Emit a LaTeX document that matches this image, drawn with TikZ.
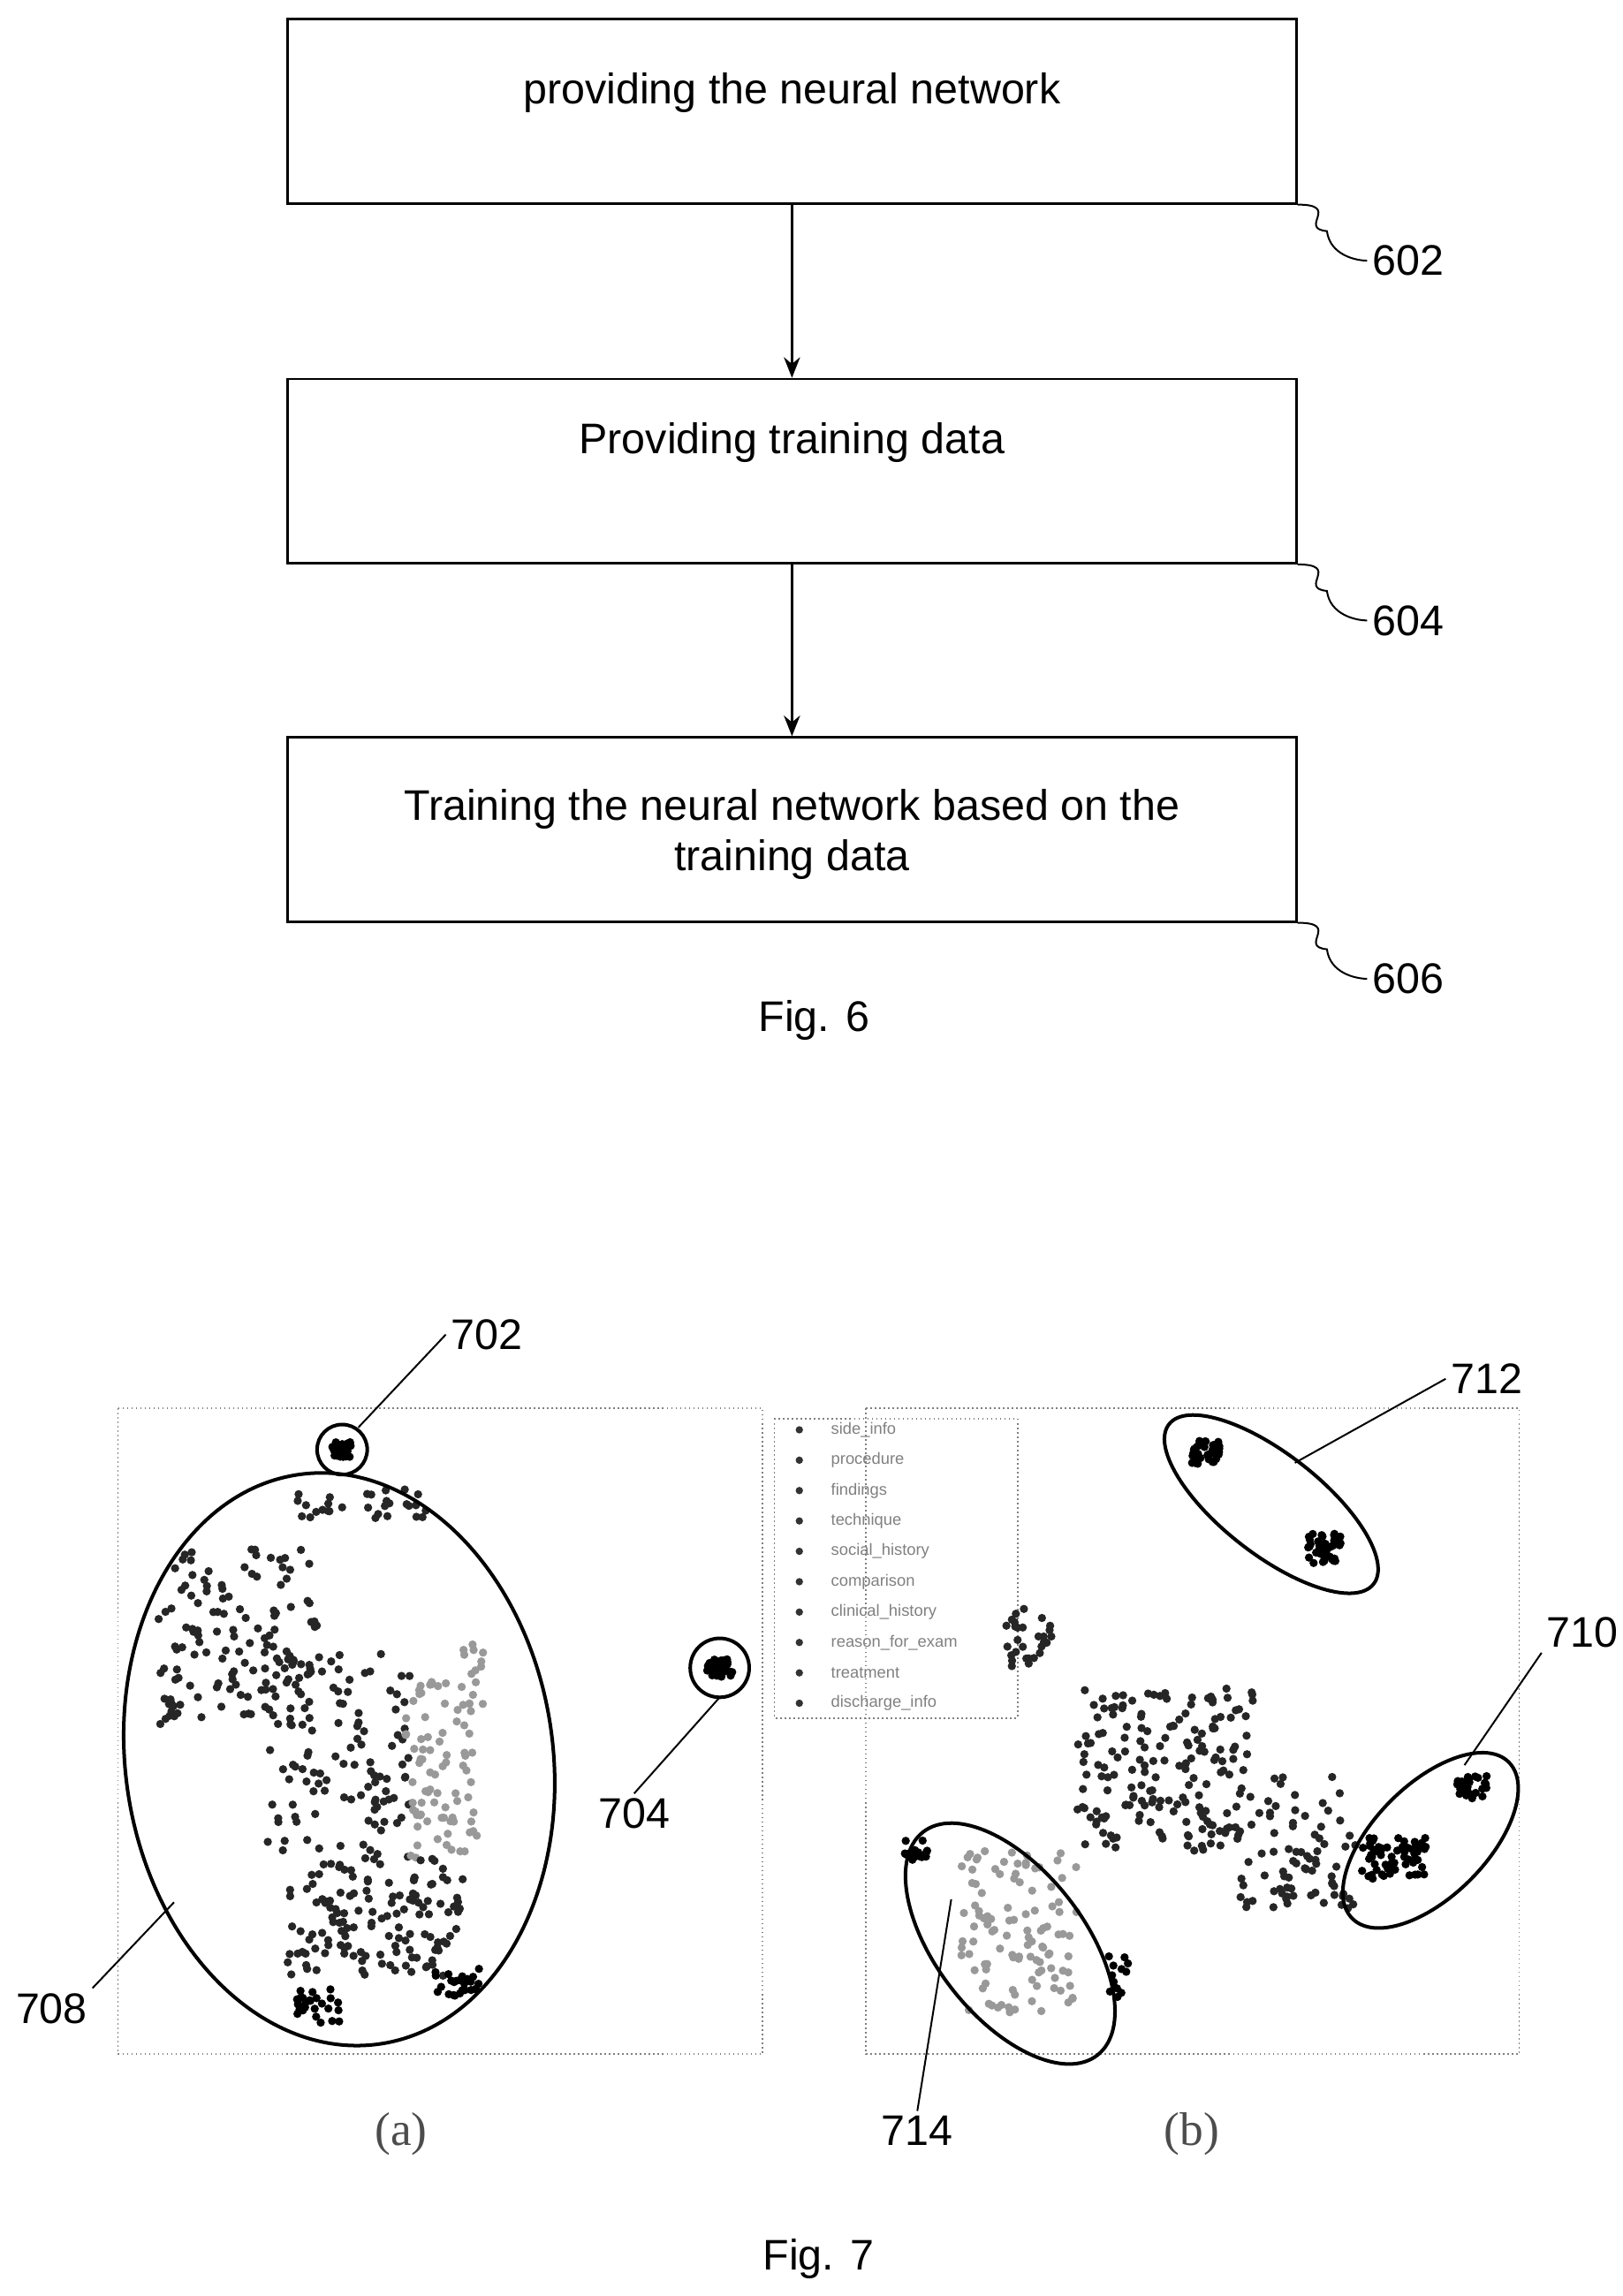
\documentclass[tikz,border=0pt]{standalone}
\usetikzlibrary{arrows.meta}
\usepackage{fontspec}
\setmainfont{Liberation Sans}
\newfontfamily\serifx{Liberation Serif}
\begin{document}
\begin{tikzpicture}[x=1pt,y=-1pt,
  box/.style={draw,line width=1.5pt},
  arr/.style={line width=1.5pt,-{Stealth[length=14pt,width=11pt]}},
  lbl/.style={font=\fontsize{29}{34}\selectfont},
  lead/.style={line width=1.2pt},
  ell/.style={line width=2.4pt},
  frame/.style={draw=gray,dotted,line width=1pt},
  leg/.style={font=\fontsize{11}{12}\selectfont,text=gray,anchor=west}]
\useasboundingbox (0,0) rectangle (1100,1557);
\newcommand{\blob}[6]{\foreach \k in {1,...,#5}{\pgfmathsetmacro{\px}{#1+#3*rand}\pgfmathsetmacro{\py}{#2+#4*rand}\fill[#6] (\px,\py) circle (2.8pt);}}
\pgfmathsetseed{7}
% Fig 6
\node[box,minimum width=684pt,minimum height=125pt] (b1) at (537,75.5) {};
\node[lbl] (t1) at (537,63) {providing the neural network};
\node[box,minimum width=684pt,minimum height=125pt] (b2) at (537,319.5) {};
\node[lbl] (t2) at (537,300) {Providing training data};
\node[box,minimum width=684pt,minimum height=125pt] (b3) at (537,562.5) {};
\node[lbl,align=center] (t3) at (537,566) {Training the neural network based on the\\training data};
\draw[arr] (b1.south) -- (b2.north);
\draw[arr] (b2.south) -- (b3.north);
\foreach \b/\n in {b1/602,b2/604,b3/606}{
 \node[lbl] (l\n) at ([xshift=75pt,yshift=-38pt]\b.south east) {\n};
 \draw[lead] (\b.south east) .. controls +(30,0) and +(-20,-2) .. ++(20,18) .. controls +(2,16) and +(-8,0) .. (l\n.west);}
\node[lbl] (f6) at (552,692) {Fig. 6};
% Fig 7 frames
\draw[frame] (80,955) rectangle (517,1393);
\draw[frame] (587,955) rectangle (1030,1393);
\draw[frame] (525,962) rectangle (690,1165);
\foreach \t [count=\i] in {side\_info,procedure,findings,technique,social\_history,comparison,clinical\_history,reason\_for\_exam,treatment,discharge\_info}{
 \fill[black!80] (542,949+20.6*\i) circle (2.5pt);
 \node[leg] at (560,949+20.6*\i) {\t};}
% scatter (a)
\blob{232}{983}{7}{5}{40}{black}
\blob{488}{1131}{9}{6}{40}{black}
\blob{245}{1020}{45}{10}{30}{black!85}
\blob{160}{1110}{55}{60}{140}{black!85}
\blob{230}{1190}{50}{70}{110}{black!85}
\blob{300}{1200}{25}{60}{80}{black!40}
\blob{255}{1300}{60}{40}{140}{black!85}
\blob{215}{1360}{15}{12}{25}{black}
\blob{310}{1345}{15}{10}{25}{black}
\blob{320}{1140}{8}{25}{15}{black!40}
% scatter (b)
\blob{818}{985}{10}{8}{40}{black}
\blob{898}{1050}{12}{10}{40}{black}
\blob{700}{1110}{18}{20}{30}{black!85}
\blob{790}{1200}{60}{55}{180}{black!85}
\blob{880}{1250}{40}{45}{80}{black!85}
\blob{945}{1260}{22}{14}{60}{black}
\blob{998}{1212}{10}{8}{30}{black}
\blob{690}{1310}{40}{55}{110}{black!40}
\blob{620}{1255}{10}{8}{15}{black}
\blob{760}{1340}{10}{15}{12}{black}
% ellipses
\draw[ell] (232,983) circle (17pt);
\draw[ell] (488,1131) circle (20pt);
\draw[ell,rotate around={8:(230,1193)}] (230,1193) ellipse [x radius=145,y radius=195];
\draw[ell,rotate around={-38:(862,1020)}] (862,1020) ellipse [x radius=88,y radius=34];
\draw[ell,rotate around={45:(970,1248)}] (970,1248) ellipse [x radius=75,y radius=38];
\draw[ell,rotate around={-52:(685,1318)}] (685,1318) ellipse [x radius=96,y radius=50];
% labels
\node[lbl] (n702) at (330,905) {702};
\node[lbl] (n712) at (1008,935) {712};
\node[lbl] (n710) at (1073,1107) {710};
\node[lbl] (n704) at (430,1230) {704};
\node[lbl] (n708) at (35,1362) {708};
\node[lbl] (n714) at (622,1445) {714};
\coordinate (e702) at (243,968); \coordinate (e712) at (878,992);
\coordinate (e710) at (993,1197); \coordinate (e704) at (488,1151);
\coordinate (e708) at (118,1290); \coordinate (e714) at (645,1288);
\draw[lead] (n702.west) -- (e702);
\draw[lead] (n712.west) -- (e712);
\draw[lead] (n710.south west) -- (e710);
\draw[lead] (n704.north) -- (e704);
\draw[lead] (n708.north east) -- (e708);
\draw[lead] (n714.north) -- (e714);
\node[font=\serifx\fontsize{32}{34}\selectfont,text=black!70] (pa) at (272,1447) {(a)};
\node[font=\serifx\fontsize{32}{34}\selectfont,text=black!70] (pb) at (808,1447) {(b)};
\node[lbl] (f7) at (555,1532) {Fig. 7};
\end{tikzpicture}
\end{document}
